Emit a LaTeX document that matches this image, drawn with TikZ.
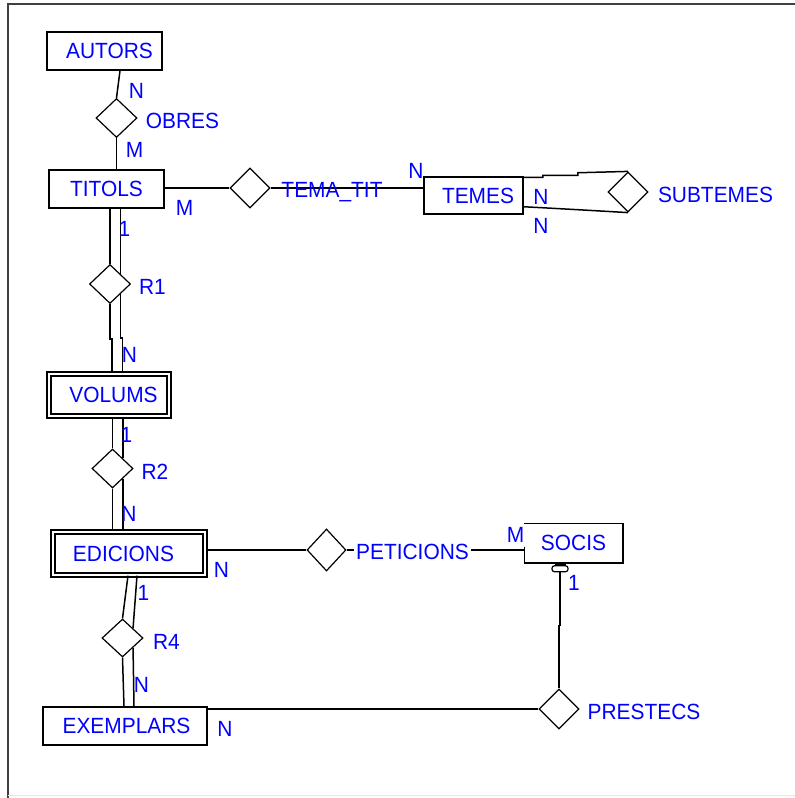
\documentclass[tikz,border=0pt]{standalone}
\usepackage{fontspec}
\setmainfont[FakeStretch=0.95]{Liberation Sans}
\usetikzlibrary{shapes.geometric}
\begin{document}
\begin{tikzpicture}[x=1pt,y=-1pt,
  txt/.style={inner sep=0pt, font=\fontsize{22}{22}\selectfont, text=blue, text height=15.7pt, text depth=0pt},
  ent/.style={txt, draw, line width=1.5pt, rectangle},
  went/.style={txt, draw, rectangle, double, line width=1.3pt, double distance=2.5pt},
  rel/.style={draw, diamond, line width=1.2pt, inner sep=0pt, minimum width=41pt, minimum height=39pt},
  lbl/.style={txt},
  conn/.style={line width=1.5pt},
  frame/.style={line width=2.5pt, black!75}
]
\useasboundingbox (0,0) rectangle (795,798);
% window frame
\draw[frame] (8,798) -- (8,4) -- (795,4);
\draw[line width=1pt, black!10] (8,795.5) -- (795,795.5);

% entities
\node[ent, minimum width=115pt, minimum height=38pt] (autors) at (104.5,51) {\hspace*{10pt}AUTORS};
\node[ent, minimum width=115pt, minimum height=38pt] (titols) at (106.5,189) {TITOLS};
\node[ent, minimum width=99pt, minimum height=37pt] (temes) at (473.5,195.5) {\hspace*{9pt}TEMES};
\node[went, minimum width=120pt, minimum height=42pt] (volums) at (109,395) {\hspace*{9pt}VOLUMS};
\node[went, minimum width=152pt, minimum height=43pt] (edicions) at (129,553.5) {EDICIONS\hspace*{11pt}};
\node[ent, minimum width=164pt, minimum height=38pt] (exemplars) at (125,726) {\hspace*{3pt}EXEMPLARS};
\node[ent, draw=none, minimum width=97pt, minimum height=38pt] (socis) at (573.5,543) {SOCIS};
\draw[line width=1.5pt] (socis.south west) ++(0,-16) -- (socis.south west) -- (socis.south east) -- (socis.north east) -- (socis.north west);

% relationships
\node[rel] (obres) at (116.5,118) {};
\node[rel, minimum width=40pt, minimum height=40pt] (tematit) at (250,188) {};
\node[rel, minimum width=40pt, minimum height=40pt] (subtemes) at (628,192) {};
\node[rel] (r1) at (110,284) {};
\node[rel] (r2) at (112.5,468.5) {};
\node[rel, minimum height=38pt] (r4) at (122.5,638) {};
\node[rel, minimum width=39pt, minimum height=42pt] (peticions) at (326.5,550) {};
\node[rel, minimum width=40pt, minimum height=40pt] (prestecs) at (559,709) {};

% connectors
\draw[conn] ([xshift=15.5pt]autors.south) -- (obres.north);
\draw[conn] (obres.south) -- (obres.south |- titols.north);
\draw[conn] (tematit.west -| titols.east) -- (tematit.west);
\draw[conn] (tematit.east) -- (temes.west |- tematit.east);
\draw[conn] ([yshift=-1pt]temes.north east) -- ++(19,0) -- ++(0,-2) -- ++(35,0) -- ++(0,-2.5) -- (subtemes.north);
\draw[conn] ([yshift=8pt]temes.south east) -- ++(19,1) -- ++(36,2) -- (subtemes.south);
% TITOLS - R1 - VOLUMS
\draw[conn] (r1.north |- titols.south) -- (r1.north);
\draw[conn] (r1.north east |- titols.south) -- (r1.north east);
\draw[conn] (r1.south) -- ++(0,35) -- ++(2,0) -- ++(0,34);
\draw[conn] (r1.south east) -- ++(0,44) -- ++(2,0) -- ++(0,34);
% VOLUMS - R2 - EDICIONS
\draw[conn] (r2.north |- volums.south) -- (r2.north);
\draw[conn] (r2.north east |- volums.south) -- (r2.north east);
\draw[conn] (r2.south) -- (r2.south |- edicions.north);
\draw[conn] (r2.south east) -- (r2.south east |- edicions.north);
% EDICIONS - R4 - EXEMPLARS
\draw[conn] ([xshift=-1pt]edicions.south) -- (r4.north);
\draw[conn] ([xshift=8pt]edicions.south) -- (r4.north east);
\draw[conn] (r4.south) -- ([xshift=-1pt]exemplars.north);
\draw[conn] (r4.south east) -- ([xshift=9pt]exemplars.north);
% EDICIONS - PETICIONS - SOCIS
\draw[conn] (peticions.west -| edicions.east) -- (peticions.west);
\draw[conn] (peticions.east) -- (peticions.east -| socis.west);
% SOCIS - PRESTECS - EXEMPLARS
\draw[line width=3pt] ([xshift=-19pt,yshift=-1pt]socis.south) -- ([xshift=-8pt,yshift=-1pt]socis.south);
\node[draw, fill=white, rounded corners=2.5pt, minimum width=16pt, minimum height=6pt, inner sep=0pt, line width=1.2pt] (card) at ([xshift=-13.5pt,yshift=-6pt]socis.south) {};
\draw[conn] (card.south) -- ++(0,53) -- ++(-1,0) -- (prestecs.north);
\draw[conn] (prestecs.west -| exemplars.east) -- (prestecs.west);

% labels
\node[lbl] (n1) at (136.5,91) {N};
\node[lbl] (lobres) at (182.5,120.5) {OBRES};
\node[lbl] (m1) at (134.5,149.5) {M};
\node[lbl] (m2) at (184.5,207.5) {M};
\node[lbl] (o1) at (124.5,228.5) {1};
\node[lbl] (ltematit) at (332,190) {TEMA\_TIT};
\node[lbl] (n2) at (416,170.5) {N};
\node[lbl] (n3) at (541,196.5) {N};
\node[lbl] (n4) at (541,225.5) {N};
\node[lbl] (lsubtemes) at (715.5,195) {SUBTEMES};
\node[lbl] (lr1) at (152.5,286.5) {R1};
\node[lbl] (n5) at (129.5,355) {N};
\node[lbl] (o2) at (126.5,435) {1};
\node[lbl] (lr2) at (155,471.5) {R2};
\node[lbl] (n6) at (129,513.5) {N};
\node[lbl] (n7) at (221.5,570) {N};
\node[lbl] (o3) at (143.5,593) {1};
\node[lbl] (lr4) at (166.5,641.5) {R4};
\node[lbl] (n8) at (141.5,685) {N};
\node[lbl] (n9) at (225,728.5) {N};
\node[lbl, fill=white, inner xsep=2pt] (lpeticions) at (412.5,552) {PETICIONS};
\node[lbl] (m3) at (515.5,535) {M};
\node[lbl] (o4) at (574,583) {1};
\node[lbl] (lprestecs) at (644,712) {PRESTECS};
\end{tikzpicture}
\end{document}
